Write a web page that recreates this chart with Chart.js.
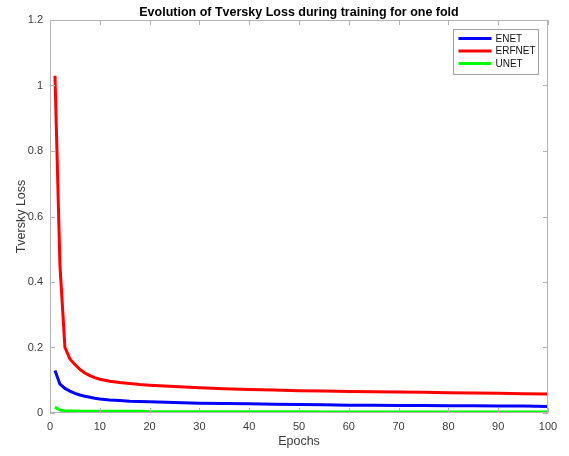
<!DOCTYPE html>
<html>
<head>
<meta charset="utf-8">
<script src="https://cdn.jsdelivr.net/npm/chart.js@4.4.1/dist/chart.umd.min.js"></script>
<style>
  html, body { margin: 0; padding: 0; background: #fff; }
  #wrap { width: 569px; height: 456px; }
</style>
</head>
<body>
<div id="wrap"><canvas id="lossChart" width="569" height="456"></canvas></div>
<script>
const epochs = [1, 2, 3, 4, 5, 6, 7, 8, 9, 10, 12, 14, 16, 18, 20, 25, 30, 35, 40, 45, 50, 55, 60, 65, 70, 75, 80, 85, 90, 95, 100];

const enetLoss = [0.13, 0.088, 0.075, 0.067, 0.060, 0.055, 0.051, 0.048, 0.045, 0.043, 0.040, 0.038, 0.036, 0.035, 0.034, 0.032, 0.030, 0.029, 0.028, 0.027, 0.026, 0.025, 0.024, 0.024, 0.023, 0.023, 0.022, 0.022, 0.021, 0.021, 0.020];
const erfnetLoss = [1.03, 0.45, 0.20, 0.165, 0.148, 0.133, 0.122, 0.114, 0.108, 0.103, 0.097, 0.093, 0.090, 0.087, 0.085, 0.081, 0.077, 0.074, 0.072, 0.070, 0.068, 0.067, 0.066, 0.065, 0.064, 0.063, 0.062, 0.061, 0.060, 0.059, 0.058];
const unetLoss = [0.018, 0.009, 0.007, 0.006, 0.006, 0.005, 0.005, 0.005, 0.005, 0.005, 0.005, 0.005, 0.005, 0.005, 0.004, 0.004, 0.004, 0.004, 0.004, 0.004, 0.004, 0.003, 0.003, 0.003, 0.003, 0.003, 0.003, 0.003, 0.003, 0.003, 0.003];

const xTicks = [0, 10, 20, 30, 40, 50, 60, 70, 80, 90, 100];
const yTicks = [0, 0.2, 0.4, 0.6, 0.8, 1, 1.2];

const FONT = "'Liberation Sans', Arial, Helvetica, sans-serif";
const AXIS_GRAY = "#b3b3b3";
const TEXT_GRAY = "#3a3a3a";

const toPoints = (vals) => vals.map((v, i) => ({ x: epochs[i], y: v }));

// MATLAB style box with inward ticks + boxed legend
const matlabBox = {
  id: 'matlabBox',
  afterDatasetsDraw(chart) {
    const ctx = chart.ctx;
    const a = chart.chartArea;
    const xs = chart.scales.x, ys = chart.scales.y;
    ctx.save();
    ctx.strokeStyle = AXIS_GRAY;
    ctx.lineWidth = 1;
    ctx.strokeRect(a.left + 0.5, a.top + 0.5, a.right - a.left - 1, a.bottom - a.top - 1);
    ctx.beginPath();
    const len = 5;
    xTicks.forEach(t => {
      const px = Math.round(xs.getPixelForValue(t)) + 0.5;
      ctx.moveTo(px, a.bottom); ctx.lineTo(px, a.bottom - len);
      ctx.moveTo(px, a.top); ctx.lineTo(px, a.top + len);
    });
    yTicks.forEach(t => {
      const py = Math.round(ys.getPixelForValue(t)) + 0.5;
      ctx.moveTo(a.left, py); ctx.lineTo(a.left + len, py);
      ctx.moveTo(a.right, py); ctx.lineTo(a.right - len, py);
    });
    ctx.stroke();

    // legend
    const bx = 453.5, by = 29.5, bw = 85, bh = 45;
    ctx.fillStyle = '#fff';
    ctx.fillRect(bx, by, bw, bh);
    ctx.strokeStyle = '#a0a0a0';
    ctx.strokeRect(bx, by, bw, bh);
    ctx.font = '10px ' + FONT;
    ctx.textBaseline = 'middle';
    chart.data.datasets.forEach((ds, i) => {
      const y = by + 9 + i * 12.5;
      ctx.strokeStyle = ds.borderColor;
      ctx.lineWidth = 3;
      ctx.beginPath();
      ctx.moveTo(bx + 5, y); ctx.lineTo(bx + 38, y);
      ctx.stroke();
      ctx.fillStyle = '#111';
      ctx.fillText(ds.label, bx + 42, y + 0.5);
    });
    ctx.restore();
  }
};

new Chart(document.getElementById('lossChart').getContext('2d'), {
  type: 'line',
  data: {
    datasets: [
      { label: 'ENET', data: toPoints(enetLoss), borderColor: '#0000ff' },
      { label: 'ERFNET', data: toPoints(erfnetLoss), borderColor: '#ff0000' },
      { label: 'UNET', data: toPoints(unetLoss), borderColor: '#00ff00' }
    ]
  },
  options: {
    responsive: false,
    animation: false,
    layout: { padding: { left: 0, right: 21, top: 0, bottom: 0 } },
    elements: {
      line: { borderWidth: 3, tension: 0, fill: false },
      point: { radius: 0 }
    },
    plugins: {
      legend: { display: false },
      tooltip: { enabled: false },
      title: {
        display: true,
        fullSize: false,
        text: 'Evolution of Tversky Loss during training for one fold',
        color: '#000',
        font: { family: FONT, size: 12.5, weight: 'bold' },
        padding: { top: 5, bottom: 0 }
      }
    },
    scales: {
      x: {
        type: 'linear',
        min: 0, max: 100,
        afterFit: (s) => { s.height = 43; },
        afterBuildTicks: (s) => { s.ticks = xTicks.map(v => ({ value: v })); },
        ticks: { color: TEXT_GRAY, font: { family: FONT, size: 11 }, padding: 7, maxRotation: 0 },
        grid: { display: false, drawTicks: false },
        border: { display: false },
        title: { display: true, text: 'Epochs', color: TEXT_GRAY, font: { family: FONT, size: 12.5 }, padding: { top: 0, bottom: 7 } }
      },
      y: {
        min: 0, max: 1.2,
        afterFit: (s) => { s.width = 50; },
        afterBuildTicks: (s) => { s.ticks = yTicks.map(v => ({ value: v })); },
        ticks: { color: TEXT_GRAY, font: { family: FONT, size: 11 }, padding: 7, callback: (v) => String(+v.toFixed(1)) },
        grid: { display: false, drawTicks: false },
        border: { display: false },
        title: { display: true, text: 'Tversky Loss', color: TEXT_GRAY, font: { family: FONT, size: 12.5 }, padding: { top: 14, bottom: 0 } }
      }
    }
  },
  plugins: [matlabBox]
});
</script>
</body>
</html>
